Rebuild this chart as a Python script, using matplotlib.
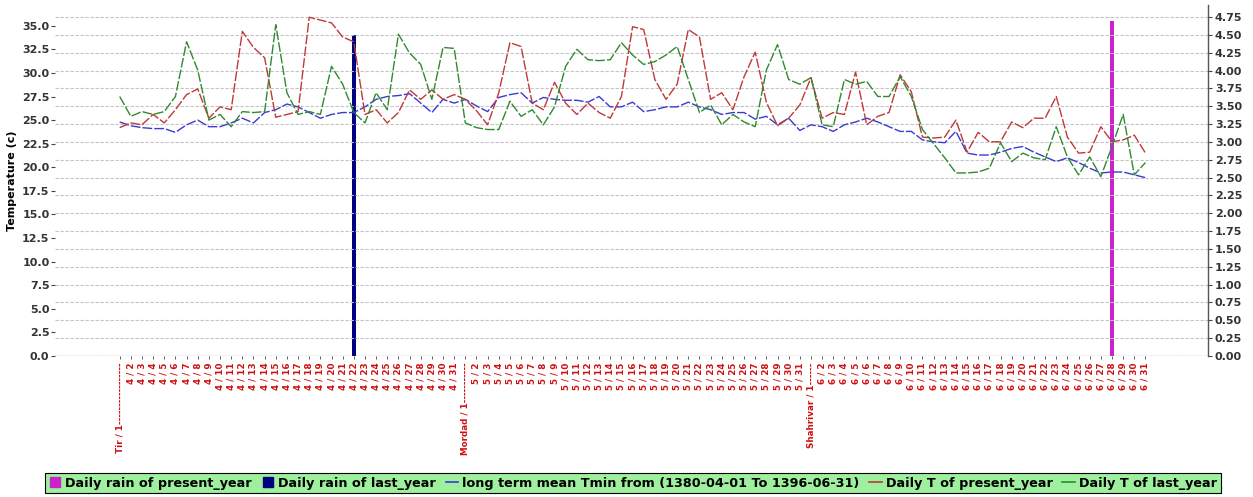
import numpy as np
import matplotlib
matplotlib.use("Agg")
import matplotlib.pyplot as plt
from matplotlib.lines import Line2D

# day labels: Tir (4), Mordad (5), Shahrivar (6), 31 days each
months = [("Tir", 4), ("Mordad", 5), ("Shahrivar", 6)]
pad = {"Tir": 17, "Mordad": 11, "Shahrivar": 6}
days = []
for name, m in months:
    for d in range(1, 32):
        if d == 1:
            days.append(name + " / 1" + "-" * pad[name])
        else:
            days.append("%d / %d" % (m, d))

# long term mean Tmin (blue)
t_mean = [24.8, 24.4, 24.2, 24.1, 24.1, 23.7, 24.5, 25.0, 24.3, 24.3,
          24.7, 25.2, 24.7, 25.8, 26.1, 26.7, 26.4, 25.8, 25.2, 25.6,
          25.8, 25.8, 26.4, 27.2, 27.5, 27.6, 27.8, 26.8, 25.8, 27.2,
          26.8, 27.2, 26.5, 25.9, 27.4, 27.7, 27.9, 26.8, 27.4, 27.2,
          27.1, 27.1, 26.9, 27.5, 26.4, 26.4, 26.9, 25.9, 26.1, 26.4,
          26.4, 26.9, 26.4, 26.1, 25.6, 25.8, 25.8, 25.1, 25.4, 24.5,
          25.2, 23.9, 24.5, 24.3, 23.8, 24.5, 24.8, 25.2, 24.8, 24.3,
          23.8, 23.8, 22.9, 22.7, 22.6, 23.8, 21.5, 21.3, 21.3, 21.6,
          22.0, 22.2, 21.6, 21.1, 20.6, 21.0, 20.5, 19.9, 19.4, 19.5,
          19.5, 19.2, 18.9]

# daily T of present year (red)
t_present = [24.2, 24.7, 24.5, 25.6, 24.7, 26.1, 27.7, 28.3, 25.2, 26.4,
             26.1, 34.4, 32.7, 31.6, 25.3, 25.6, 25.9, 35.9, 35.6, 35.3,
             33.8, 33.3, 25.6, 26.1, 24.7, 25.8, 28.2, 27.2, 28.2, 27.2,
             27.7, 27.2, 26.0, 24.5, 27.9, 33.2, 32.8, 26.8, 26.1, 29.0,
             26.8, 25.6, 26.8, 25.8, 25.2, 27.5, 34.9, 34.6, 29.3, 27.2,
             28.8, 34.6, 33.8, 27.2, 27.9, 26.1, 29.6, 32.2, 26.9, 24.4,
             25.2, 26.6, 29.5, 25.2, 25.8, 25.6, 30.1, 24.5, 25.4, 25.8,
             29.8, 28.0, 23.2, 23.1, 23.2, 25.0, 21.6, 23.7, 22.7, 22.7,
             24.8, 24.2, 25.2, 25.2, 27.5, 23.2, 21.5, 21.6, 24.3, 22.7,
             22.9, 23.4, 21.5]

# daily T of last year (green)
t_last = [27.5, 25.4, 25.9, 25.6, 25.9, 27.5, 33.3, 30.3, 25.0, 25.6,
          24.3, 25.9, 25.8, 25.9, 35.1, 27.9, 25.6, 25.9, 25.6, 30.7,
          28.8, 25.8, 24.7, 27.9, 26.1, 34.1, 32.1, 30.9, 27.2, 32.7,
          32.6, 24.7, 24.2, 24.0, 24.0, 27.0, 25.4, 26.1, 24.5, 26.4,
          30.7, 32.5, 31.4, 31.3, 31.4, 33.2, 31.9, 30.9, 31.2, 31.9,
          32.8, 29.3, 25.8, 26.6, 24.5, 25.6, 24.8, 24.3, 30.3, 33.0,
          29.3, 28.8, 29.5, 24.5, 24.3, 29.3, 28.8, 29.1, 27.5, 27.5,
          29.6, 27.5, 24.0, 22.5, 21.0, 19.4, 19.4, 19.5, 19.9, 22.6,
          20.6, 21.5, 21.0, 20.8, 24.3, 21.1, 19.2, 21.1, 19.0, 22.2,
          25.6, 19.2, 20.5]

# daily rain (right axis)
rain_present_day = "6 / 28"
rain_present = 4.7
rain_last_day = "4 / 22"
rain_last = 4.5

c_red = "#c03838"
c_green = "#2f8a2f"
c_blue = "#3a3ad0"
c_mag = "#cc22cc"
c_navy = "#000080"

fig = plt.figure(figsize=(12.53, 4.97), dpi=100)
ax = fig.add_axes([0.0439, 0.2837, 0.9201, 0.7063])
ax2 = ax.twinx()
ax.set_zorder(ax2.get_zorder() + 1)
ax.patch.set_visible(False)

x = np.arange(len(days))
ls = (0, (7, 1.5))
ax.plot(x, t_mean, color=c_blue, lw=1.0, ls=ls)
ax.plot(x, t_present, color=c_red, lw=1.0, ls=ls)
ax.plot(x, t_last, color=c_green, lw=1.0, ls=ls)

ax2.bar(days.index(rain_last_day), rain_last, width=0.35, color=c_navy)
ax2.bar(days.index(rain_present_day), rain_present, width=0.35, color=c_mag)

ax.set_xlim(-5.8, 97.6)
ax.set_ylim(0, 37.2)
ax2.set_ylim(0, 4.92)

ax.set_yticks(np.arange(0, 35.01, 2.5))
ax.set_yticklabels(["%.1f" % v for v in np.arange(0, 35.01, 2.5)],
                   fontsize=8, fontweight="bold", color="#333333")
ax2.set_yticks(np.arange(0, 4.751, 0.25))
ax2.set_yticklabels(["%.2f" % v for v in np.arange(0, 4.751, 0.25)],
                    fontsize=8, fontweight="bold", color="#333333")
ax2.grid(axis="y", color="#c4c4c4", lw=0.8, ls=(0, (3, 1.5)))
ax2.axhline(0, color="#555555", lw=0.9, ls=(0, (1, 1)))

ax.set_xticks(x)
ax.set_xticklabels(days, rotation=90, fontsize=6.3, color="#d01010",
                   fontweight="bold", va="top", ha="center")
ax.tick_params(axis="x", length=2.5, width=0.6, color="#444444", pad=2)
ax.tick_params(axis="y", length=3, width=0.8, color="#444444", pad=1)
ax2.tick_params(axis="y", length=3, width=0.8, color="#444444", pad=2)

for a in (ax, ax2):
    for s in ("top", "left", "bottom"):
        a.spines[s].set_visible(False)
ax.spines["right"].set_visible(False)
ax2.spines["right"].set_color("#555555")
ax2.spines["right"].set_linewidth(1.0)

ax.set_ylabel("Temperature (c)", fontsize=8, fontweight="bold", labelpad=4)

handles = [
    Line2D([], [], marker="s", ls="none", color=c_mag, markersize=7.5),
    Line2D([], [], marker="s", ls="none", color=c_navy, markersize=7.5),
    Line2D([], [], color=c_blue, lw=1.2),
    Line2D([], [], color=c_red, lw=1.2),
    Line2D([], [], color=c_green, lw=1.2),
]
labels = ["Daily rain of present_year", "Daily rain of last_year",
          "long term mean Tmin from (1380-04-01 To 1396-06-31)",
          "Daily T of present_year", "Daily T of last_year"]
leg = fig.legend(handles, labels, loc="center", bbox_to_anchor=(0.505, 0.028),
                 ncol=5, frameon=True, fancybox=False, facecolor="#9ef09e",
                 edgecolor="black", framealpha=1, handlelength=1.0,
                 handletextpad=0.3, columnspacing=0.75, borderpad=0.3,
                 prop={"size": 9.2, "weight": "bold"})
leg.get_frame().set_linewidth(0.8)

fig.savefig("out.png", dpi=100)
